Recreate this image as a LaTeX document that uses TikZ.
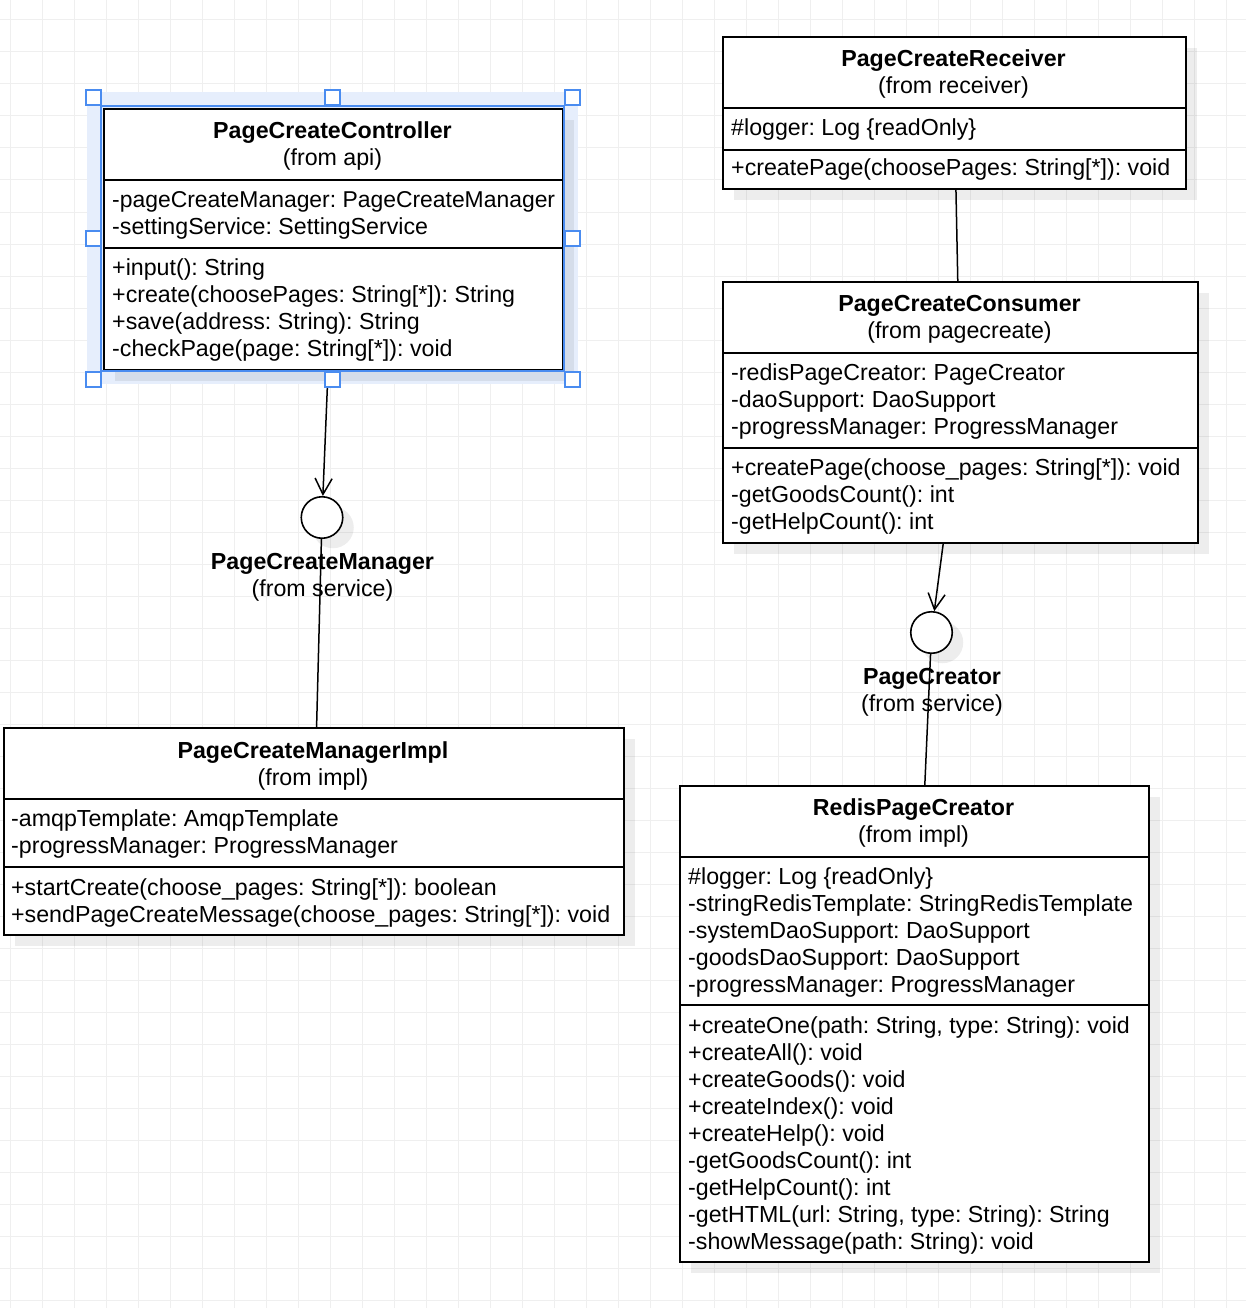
\documentclass[tikz,border=0pt]{standalone}
\usepackage{fontspec}
\setmainfont{Liberation Sans}
\frenchspacing
\usetikzlibrary{arrows.meta,shadows}
\definecolor{gridc}{HTML}{EFEFEF}
\definecolor{selblue}{HTML}{4A8CF0}
\definecolor{glowc}{HTML}{E6EEFC}
\newcommand\memberfont{\fontsize{23.2}{27}\selectfont\frenchspacing}
\newcommand\titlefont{\fontsize{23.2}{27}\selectfont\bfseries\frenchspacing}
\newcommand\umlmembers[4]{\foreach \t [count=\i] in {#4}{\node[member] (#1\i) at ({#2},{#3+27*(\i-1)}) {\t};}}
\tikzset{
  umlbox/.style={draw=black, fill=white, line width=1.8pt, rectangle, inner sep=0pt, anchor=north west,
    general shadow={fill=black, opacity=0.07, shadow xshift=11pt, shadow yshift=-11pt}},
  iface/.style={draw=black, fill=white, line width=1.6pt, circle, inner sep=0pt, minimum size=41.5pt,
    general shadow={fill=black, opacity=0.07, shadow xshift=11pt, shadow yshift=-10pt}},
  member/.style={anchor=base west, inner sep=0pt, font=\memberfont},
  umltitle/.style={anchor=base, inner sep=0pt, font=\titlefont},
  umlsub/.style={anchor=base, inner sep=0pt, font=\memberfont},
  sepline/.style={line width=1.8pt},
  assoc/.style={line width=1.5pt},
  realize/.style={line width=1.5pt, -{Straight Barb[length=16pt,width=17pt,line width=1.5pt]}},
  handle/.style={draw=selblue, fill=white, line width=2pt},
  gridline/.style={draw=gridc, line width=1pt}
}
\begin{document}
\begin{tikzpicture}[x=1pt,y=-1pt]
\useasboundingbox (0,0) rectangle (1246,1308);
\fill[white] (0,0) rectangle (1246,1308);
% grid
\foreach \k in {0,...,38} \draw[gridline] ({10.5+32*\k},0) -- ({10.5+32*\k},1308);
\foreach \k in {0,...,40} \draw[gridline] (0,{20+32*\k}) -- (1246,{20+32*\k});
% selection glow
\fill[glowc] (87,92) rectangle (578,384);

% boxes
\node[umlbox, minimum width=459pt, minimum height=261pt] (ctrl) at (103,108) {};
\node[umlbox, minimum width=463pt, minimum height=152pt] (recv) at (722,36) {};
\node[umlbox, minimum width=475pt, minimum height=261pt] (cons) at (722,281) {};
\node[umlbox, minimum width=620pt, minimum height=207pt] (impl) at (3,727) {};
\node[umlbox, minimum width=469pt, minimum height=476pt] (redis) at (679,785) {};

% interfaces
\node[iface] (mgr) at (322,517.5) {};
\node[iface] (creator) at (931.5,632.5) {};

% separators
\draw[sepline] (103,180) -- (562,180);
\draw[sepline] (103,248) -- (562,248);
\draw[sepline] (722,108) -- (1185,108);
\draw[sepline] (722,150) -- (1185,150);
\draw[sepline] (722,353) -- (1197,353);
\draw[sepline] (722,448) -- (1197,448);
\draw[sepline] (3,799) -- (623,799);
\draw[sepline] (3,867) -- (623,867);
\draw[sepline] (679,857) -- (1148,857);
\draw[sepline] (679,1005) -- (1148,1005);

% PageCreateController
\node[umltitle] (ctrlT) at (332.5,139) {PageCreateController};
\node[umlsub] (ctrlS) at (332.5,166) {(from api)};
\umlmembers{ctrlA}{112}{207.5}{{\fontsize{22.9}{27}\selectfont -pageCreateManager: PageCreateManager},{-settingService: SettingService}}
\umlmembers{ctrlM}{112}{275}{{+input(): String},{+create(choosePages: String[*]): String},{+save(address: String): String},{-checkPage(page: String[*]): void}}

% PageCreateReceiver
\node[umltitle] (recvT) at (953.5,67) {PageCreateReceiver};
\node[umlsub] (recvS) at (953.5,94) {(from receiver)};
\umlmembers{recvA}{731}{136}{{\#logger: Log \{readOnly\}}}
\umlmembers{recvM}{731}{176}{{+createPage(choosePages: String[*]): void}}

% PageCreateConsumer
\node[umltitle] (consT) at (959.5,311) {PageCreateConsumer};
\node[umlsub] (consS) at (959.5,338) {(from pagecreate)};
\umlmembers{consA}{731}{380}{{-redisPageCreator: PageCreator},{-daoSupport: DaoSupport},{-progressManager: ProgressManager}}
\umlmembers{consM}{731}{475}{{+createPage(choose\_pages: String[*]): void},{-getGoodsCount(): int},{-getHelpCount(): int}}

% PageCreateManagerImpl
\node[umltitle] (implT) at (313,758) {PageCreateManagerImpl};
\node[umlsub] (implS) at (313,785) {(from impl)};
\umlmembers{implA}{11}{826}{{-amqpTemplate: AmqpTemplate},{-progressManager: ProgressManager}}
\umlmembers{implM}{11}{895}{{+startCreate(choose\_pages: String[*]): boolean},{+sendPageCreateMessage(choose\_pages: String[*]): void}}

% RedisPageCreator
\node[umltitle] (redisT) at (913.5,815) {RedisPageCreator};
\node[umlsub] (redisS) at (913.5,842) {(from impl)};
\umlmembers{redisA}{688}{884}{{\#logger: Log \{readOnly\}},{-stringRedisTemplate: StringRedisTemplate},{-systemDaoSupport: DaoSupport},{-goodsDaoSupport: DaoSupport},{-progressManager: ProgressManager}}
\umlmembers{redisM}{688}{1033}{{+createOne(path: String, type: String): void},{+createAll(): void},{+createGoods(): void},{+createIndex(): void},{+createHelp(): void},{-getGoodsCount(): int},{-getHelpCount(): int},{-getHTML(url: String, type: String): String},{-showMessage(path: String): void}}

% interface labels
\node[umltitle] (mgrT) at (322.5,569) {PageCreateManager};
\node[umlsub] (mgrS) at (322.5,596) {(from service)};
\node[umltitle] (creatorT) at (932,684) {PageCreator};
\node[umlsub] (creatorS) at (932,711) {(from service)};

% connectors
\draw[realize] (ctrl) -- (mgr);
\draw[assoc] (mgr) -- (impl);
\draw[assoc] (recv) -- (cons);
\draw[realize] (cons) -- (creator);
\draw[assoc] (creator) -- (redis);

% selection outline and handles
\draw[selblue, line width=1.5pt] (101,106) rectangle (564,371);
\foreach \hx/\hy in {93/98, 332.5/98, 572/98, 93/238.5, 572/238.5, 93/379, 332.5/379, 572/379}
  \draw[handle] ({\hx-7.5},{\hy-7.5}) rectangle ({\hx+7.5},{\hy+7.5});
\end{tikzpicture}
\end{document}
